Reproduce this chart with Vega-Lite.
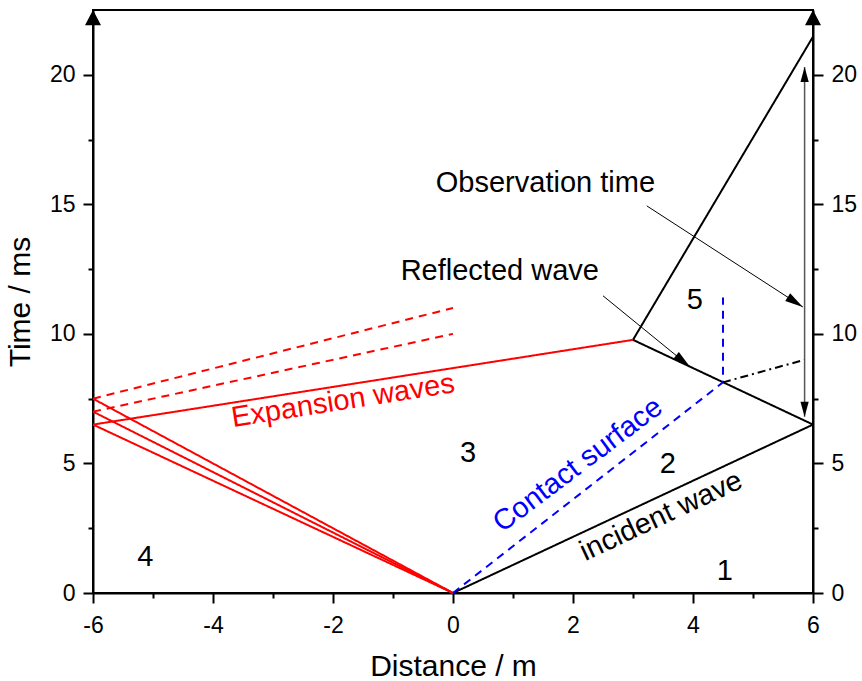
{
  "$schema": "https://vega.github.io/schema/vega-lite/v6.json",
  "width": 720,
  "height": 583,
  "autosize": {"type": "none"},
  "padding": {"left": 93, "top": 10, "right": 49, "bottom": 88},
  "background": "white",
  "config": {
    "view": {"stroke": "black", "strokeWidth": 2},
    "font": "Liberation Sans",
    "axis": {
      "grid": false,
      "domainColor": "black",
      "domainWidth": 2,
      "tickColor": "black",
      "tickWidth": 2,
      "labelColor": "black",
      "labelFont": "Liberation Sans",
      "labelFontSize": 23,
      "labelFlush": false,
      "labelOverlap": false,
      "labelBound": false,
      "titleFont": "Liberation Sans",
      "titleFontSize": 30,
      "titleFontWeight": "normal",
      "titleColor": "black"
    },
    "text": {"font": "Liberation Sans"}
  },
  "datasets": {
    "waves": [
      {"seg": "incident", "kind": "shock", "o": 0, "x": 0, "y": 0},
      {"seg": "incident", "kind": "shock", "o": 1, "x": 6, "y": 6.5},
      {"seg": "reflected", "kind": "shock", "o": 0, "x": 6, "y": 6.5},
      {"seg": "reflected", "kind": "shock", "o": 1, "x": 3, "y": 9.77},
      {"seg": "transmitted", "kind": "shock", "o": 0, "x": 3, "y": 9.77},
      {"seg": "transmitted", "kind": "shock", "o": 1, "x": 6, "y": 21.47},
      {"seg": "head", "kind": "expansion", "o": 0, "x": 0, "y": 0},
      {"seg": "head", "kind": "expansion", "o": 1, "x": -6, "y": 6.5},
      {"seg": "mid", "kind": "expansion", "o": 0, "x": 0, "y": 0},
      {"seg": "mid", "kind": "expansion", "o": 1, "x": -6, "y": 7.0},
      {"seg": "tail", "kind": "expansion", "o": 0, "x": 0, "y": 0},
      {"seg": "tail", "kind": "expansion", "o": 1, "x": -6, "y": 7.5},
      {"seg": "head-refl", "kind": "expansion", "o": 0, "x": -6, "y": 6.5},
      {"seg": "head-refl", "kind": "expansion", "o": 1, "x": 3, "y": 9.77},
      {"seg": "mid-refl", "kind": "expansion-refl", "o": 0, "x": -6, "y": 7.0},
      {"seg": "mid-refl", "kind": "expansion-refl", "o": 1, "x": 0, "y": 10},
      {"seg": "tail-refl", "kind": "expansion-refl", "o": 0, "x": -6, "y": 7.5},
      {"seg": "tail-refl", "kind": "expansion-refl", "o": 1, "x": 0, "y": 11},
      {"seg": "contact", "kind": "contact", "o": 0, "x": 0, "y": 0},
      {"seg": "contact", "kind": "contact", "o": 1, "x": 4.5, "y": 8.13},
      {"seg": "contact", "kind": "contact", "o": 2, "x": 4.5, "y": 11.4},
      {"seg": "extension", "kind": "extension", "o": 0, "x": 4.5, "y": 8.13},
      {"seg": "extension", "kind": "extension", "o": 1, "x": 5.86, "y": 9.0}
    ],
    "pointers": [
      {"seg": "obs", "o": 0, "x": 3.23, "y": 14.94},
      {"seg": "obs", "o": 1, "x": 5.83, "y": 11.04},
      {"seg": "refl", "o": 0, "x": 2.5, "y": 11.47},
      {"seg": "refl", "o": 1, "x": 3.95, "y": 8.73}
    ],
    "span": [
      {"o": 0, "x": 5.86, "y": 6.8},
      {"o": 1, "x": 5.86, "y": 20.3}
    ],
    "obsHead": [{"x": 5.83, "y": 11.04}],
    "reflHead": [{"x": 3.95, "y": 8.73}],
    "spanTop": [{"x": 5.86, "y": 20.3}],
    "spanBottom": [{"x": 5.86, "y": 6.8}],
    "axisTips": [{"x": -6, "y": 22.5}, {"x": 6, "y": 22.5}],
    "labels": [
      {"text": "1", "x": 4.53, "y": 0.5},
      {"text": "2", "x": 3.58, "y": 4.63},
      {"text": "3", "x": 0.25, "y": 5.06},
      {"text": "4", "x": -5.13, "y": 1.04},
      {"text": "5", "x": 4.03, "y": 10.97},
      {"text": "Observation time", "x": 1.54, "y": 15.48},
      {"text": "Reflected wave", "x": 0.78, "y": 12.08}
    ],
    "expansionLabel": [{"text": "Expansion waves", "x": -1.81, "y": 7.08}],
    "contactLabel": [{"text": "Contact surface", "x": 2.17, "y": 4.67}],
    "incidentLabel": [{"text": "incident wave", "x": 3.53, "y": 2.66}]
  },
  "resolve": {
    "axis": {"x": "independent", "y": "independent"},
    "scale": {"color": "independent", "strokeDash": "independent"}
  },
  "layer": [
    {
      "data": {"name": "waves"},
      "mark": {"type": "line", "strokeWidth": 2, "clip": false},
      "encoding": {
        "x": {
          "field": "x", "type": "quantitative",
          "scale": {"domain": [-6, 6], "nice": false, "zero": false},
          "axis": {
            "orient": "bottom",
            "values": [-6, -4, -2, 0, 2, 4, 6],
            "tickSize": 10,
            "labelPadding": 11,
            "labelExpr": "datum.value < 0 ? '-' + (-datum.value) : '' + datum.value",
            "title": "Distance / m",
            "titlePadding": 14
          }
        },
        "y": {
          "field": "y", "type": "quantitative",
          "scale": {"domain": [0, 22.5], "nice": false, "zero": false},
          "axis": {
            "orient": "left",
            "values": [0, 5, 10, 15, 20],
            "tickSize": 10,
            "labelPadding": 8,
            "title": "Time / ms",
            "titlePadding": 14
          }
        },
        "detail": {"field": "seg"},
        "order": {"field": "o", "type": "quantitative"},
        "color": {
          "field": "kind", "type": "nominal", "legend": null,
          "scale": {
            "domain": ["shock", "expansion", "expansion-refl", "contact", "extension"],
            "range": ["#000000", "#ff0000", "#ff0000", "#0000ff", "#000000"]
          }
        },
        "strokeDash": {
          "field": "kind", "type": "nominal", "legend": null,
          "scale": {
            "domain": ["shock", "expansion", "expansion-refl", "contact", "extension"],
            "range": [[1, 0], [1, 0], [8, 6], [8, 6], [8, 4, 2, 4]]
          }
        }
      }
    },
    {
      "data": {"name": "pointers"},
      "mark": {"type": "line", "clip": false, "color": "black", "strokeWidth": 1},
      "encoding": {
        "x": {
          "field": "x", "type": "quantitative",
          "scale": {"domain": [-6, 6], "nice": false, "zero": false},
          "axis": {
            "orient": "bottom",
            "values": [-5, -3, -1, 1, 3, 5],
            "tickSize": 5,
            "domain": false,
            "labels": false,
            "title": null
          }
        },
        "y": {
          "field": "y", "type": "quantitative",
          "scale": {"domain": [0, 22.5], "nice": false, "zero": false},
          "axis": {
            "orient": "right",
            "values": [0, 5, 10, 15, 20],
            "tickSize": 10,
            "labelPadding": 8,
            "title": null
          }
        },
        "detail": {"field": "seg"},
        "order": {"field": "o", "type": "quantitative"}
      }
    },
    {
      "data": {"name": "span"},
      "mark": {"type": "line", "clip": false, "color": "#555555", "strokeWidth": 1.5},
      "encoding": {
        "x": {"field": "x", "type": "quantitative", "scale": {"domain": [-6, 6], "nice": false, "zero": false}, "axis": null},
        "y": {"field": "y", "type": "quantitative", "scale": {"domain": [0, 22.5], "nice": false, "zero": false}, "axis": null},
        "order": {"field": "o", "type": "quantitative"}
      }
    },
    {
      "data": {"name": "axisTips"},
      "mark": {"type": "point", "shape": "M0,0L-1,1.9L1,1.9Z", "size": 256, "filled": true, "color": "black", "opacity": 1, "clip": false},
      "encoding": {
        "x": {"field": "x", "type": "quantitative", "scale": {"domain": [-6, 6], "nice": false, "zero": false}, "axis": null},
        "y": {
          "field": "y", "type": "quantitative",
          "scale": {"domain": [0, 22.5], "nice": false, "zero": false},
          "axis": {
            "orient": "left",
            "values": [2.5, 7.5, 12.5, 17.5],
            "tickSize": 5,
            "domain": false,
            "labels": false,
            "title": null
          }
        }
      }
    },
    {
      "data": {"name": "obsHead"},
      "mark": {"type": "point", "shape": "M0,0L-0.5,2L0.5,2Z", "size": 324, "filled": true, "color": "black", "opacity": 1, "angle": 123},
      "encoding": {
        "x": {"field": "x", "type": "quantitative", "scale": {"domain": [-6, 6], "nice": false, "zero": false}, "axis": null},
        "y": {"field": "y", "type": "quantitative", "scale": {"domain": [0, 22.5], "nice": false, "zero": false}, "axis": null}
      }
    },
    {
      "data": {"name": "reflHead"},
      "mark": {"type": "point", "shape": "M0,0L-0.5,2L0.5,2Z", "size": 324, "filled": true, "color": "black", "opacity": 1, "angle": 129},
      "encoding": {
        "x": {"field": "x", "type": "quantitative", "scale": {"domain": [-6, 6], "nice": false, "zero": false}, "axis": null},
        "y": {"field": "y", "type": "quantitative", "scale": {"domain": [0, 22.5], "nice": false, "zero": false}, "axis": null}
      }
    },
    {
      "data": {"name": "spanTop"},
      "mark": {"type": "point", "shape": "M0,0L-0.55,2L0.55,2Z", "size": 225, "filled": true, "color": "black", "opacity": 1, "angle": 0},
      "encoding": {
        "x": {"field": "x", "type": "quantitative", "scale": {"domain": [-6, 6], "nice": false, "zero": false}, "axis": null},
        "y": {"field": "y", "type": "quantitative", "scale": {"domain": [0, 22.5], "nice": false, "zero": false}, "axis": null}
      }
    },
    {
      "data": {"name": "spanBottom"},
      "mark": {"type": "point", "shape": "M0,0L-0.55,2L0.55,2Z", "size": 225, "filled": true, "color": "black", "opacity": 1, "angle": 180},
      "encoding": {
        "x": {"field": "x", "type": "quantitative", "scale": {"domain": [-6, 6], "nice": false, "zero": false}, "axis": null},
        "y": {"field": "y", "type": "quantitative", "scale": {"domain": [0, 22.5], "nice": false, "zero": false}, "axis": null}
      }
    },
    {
      "data": {"name": "labels"},
      "mark": {"type": "text", "fontSize": 29, "align": "center", "baseline": "alphabetic", "color": "black"},
      "encoding": {
        "x": {"field": "x", "type": "quantitative", "scale": {"domain": [-6, 6], "nice": false, "zero": false}, "axis": null},
        "y": {
          "field": "y", "type": "quantitative",
          "scale": {"domain": [0, 22.5], "nice": false, "zero": false},
          "axis": {
            "orient": "right",
            "values": [2.5, 7.5, 12.5, 17.5],
            "tickSize": 5,
            "domain": false,
            "labels": false,
            "title": null
          }
        },
        "text": {"field": "text"}
      }
    },
    {
      "data": {"name": "expansionLabel"},
      "mark": {"type": "text", "fontSize": 29, "align": "center", "baseline": "alphabetic", "color": "#ff0000", "angle": -8.9},
      "encoding": {
        "x": {"field": "x", "type": "quantitative", "scale": {"domain": [-6, 6], "nice": false, "zero": false}, "axis": null},
        "y": {"field": "y", "type": "quantitative", "scale": {"domain": [0, 22.5], "nice": false, "zero": false}, "axis": null},
        "text": {"field": "text"}
      }
    },
    {
      "data": {"name": "contactLabel"},
      "mark": {"type": "text", "fontSize": 29, "align": "center", "baseline": "alphabetic", "color": "#0000ff", "angle": -37},
      "encoding": {
        "x": {"field": "x", "type": "quantitative", "scale": {"domain": [-6, 6], "nice": false, "zero": false}, "axis": null},
        "y": {"field": "y", "type": "quantitative", "scale": {"domain": [0, 22.5], "nice": false, "zero": false}, "axis": null},
        "text": {"field": "text"}
      }
    },
    {
      "data": {"name": "incidentLabel"},
      "mark": {"type": "text", "fontSize": 29, "align": "center", "baseline": "alphabetic", "color": "black", "angle": -25},
      "encoding": {
        "x": {"field": "x", "type": "quantitative", "scale": {"domain": [-6, 6], "nice": false, "zero": false}, "axis": null},
        "y": {"field": "y", "type": "quantitative", "scale": {"domain": [0, 22.5], "nice": false, "zero": false}, "axis": null},
        "text": {"field": "text"}
      }
    }
  ]
}
